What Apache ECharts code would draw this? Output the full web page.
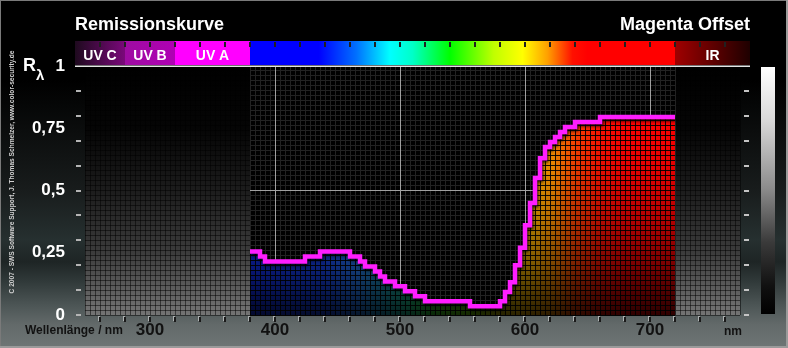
<!DOCTYPE html>
<html><head><meta charset="utf-8">
<script src="https://cdn.jsdelivr.net/npm/echarts@6/dist/echarts.min.js"></script>
<style>
html,body{margin:0;padding:0;background:#000;}
#c{width:788px;height:348px;background:linear-gradient(to bottom,#000 0px,#000 80px,#0b0d0d 130px,#181c1c 190px,#263030 240px,#1e2525 262px,#313a3a 282px,#4c5555 305px,#636a6a 325px,#6e7575 348px);}
</style></head><body><div id="c"></div><script>
// ---- data ----
const wavelengths = [380,384,388,392,396,400,404,408,412,416,420,424,428,432,436,440,444,448,452,456,460,464,468,472,476,480,484,488,492,496,500,504,508,512,516,520,524,528,532,536,540,544,548,552,556,560,564,568,572,576,580,584,588,592,596,600,604,608,612,616,620,624,628,632,636,640,644,648,652,656,660,664,668,672,676,680,684,688,692,696,700,704,708,712,716];
const remission = [0.255,0.255,0.235,0.215,0.215,0.215,0.215,0.215,0.215,0.215,0.215,0.235,0.235,0.235,0.255,0.255,0.255,0.255,0.255,0.255,0.235,0.235,0.215,0.195,0.195,0.175,0.155,0.135,0.135,0.115,0.115,0.095,0.095,0.075,0.075,0.055,0.055,0.055,0.055,0.055,0.055,0.055,0.055,0.055,0.035,0.035,0.035,0.035,0.035,0.035,0.055,0.092,0.132,0.2,0.27,0.36,0.45,0.55,0.63,0.675,0.695,0.715,0.735,0.755,0.755,0.775,0.775,0.775,0.775,0.775,0.795,0.795,0.795,0.795,0.795,0.795,0.795,0.795,0.795,0.795,0.795,0.795,0.795,0.795,0.795];
const dataEnd = 720;
const cellWidth = 4;
const xLabelValues = [300,400,500,600,700];
const yLabelValues = [0,0.25,0.5,0.75,1];
const bandNames = ['UV C','UV B','UV A','IR'];
const bandCenters = [260,300,350,750];
const majorX = [400,500,600,700];
const majorY = [0.5];
const sideRegions = [[248,380],[720,772]];

// ---- styles ----
const FONT = "'Liberation Sans', Arial, Helvetica, sans-serif";
const barSpectrum = [[240,'#1e0a1e'],[280,'#7a087a'],[280,'#9e0ca2'],[320,'#b000b4'],[320,'#ff00ff'],[380,'#ff00ff'],[380,'#0000ff'],[435,'#0000ff'],[465,'#0070ff'],[492,'#00ffff'],[510,'#00ffc8'],[540,'#00ff00'],[575,'#c0ff00'],[598,'#ffff00'],[618,'#ffa000'],[638,'#ff1000'],[650,'#ff0000'],[720,'#ff0000'],[720,'#a00000'],[780,'#1e0000']];
const fillSpectrum = [[380,'#1030ff'],[440,'#1848ff'],[465,'#2880ff'],[485,'#20a0d0'],[505,'#20d0a0'],[525,'#30e030'],[555,'#70e000'],[578,'#d0c000'],[595,'#ffc000'],[608,'#ffb000'],[622,'#ff9000'],[640,'#ff4000'],[660,'#ff1000'],[680,'#ff0000'],[720,'#ff0000']];
const shade = [[0,1],[0.25,0.9],[0.5,0.72],[0.75,0.48],[1,0.18]];

function hex(h){return [parseInt(h.slice(1,3),16),parseInt(h.slice(3,5),16),parseInt(h.slice(5,7),16)];}
function specAt(stops, nm){
  if(nm<=stops[0][0]) return hex(stops[0][1]);
  for(let i=1;i<stops.length;i++){
    if(nm<=stops[i][0]){
      const a=stops[i-1], b=stops[i]; const t=(b[0]===a[0])?1:(nm-a[0])/(b[0]-a[0]);
      const ca=hex(a[1]), cb=hex(b[1]);
      return [0,1,2].map(k=>ca[k]+(cb[k]-ca[k])*t);
    }
  }
  return hex(stops[stops.length-1][1]);
}
function rgb(c,f){return 'rgb('+Math.round(c[0]*f)+','+Math.round(c[1]*f)+','+Math.round(c[2]*f)+')';}
function ln(x1,y1,x2,y2,stroke,w){return {type:'line',shape:{x1:x1,y1:y1,x2:x2,y2:y2},style:{stroke:stroke,lineWidth:w||1}};}
function px(v){return Math.floor(v)+0.5;}

const chart = echarts.init(document.getElementById('c'), null, {renderer:'canvas'});

function renderBack(params, api){
  const ch=[]; const c=(x,y)=>api.coord([x,y]);
  const yTop=c(0,1)[1], yBot=c(0,0)[1];
  sideRegions.forEach(function(r){
    const p0=c(r[0],0), p1=c(r[1],1);
    ch.push({type:'rect',shape:{x:p0[0],y:p1[1],width:p1[0]-p0[0],height:p0[1]-p1[1]},
      style:{fill:{type:'linear',x:0,y:0,x2:0,y2:1,colorStops:[{offset:0,color:'#000'},{offset:0.25,color:'#050505'},{offset:0.5,color:'#1c1c1c'},{offset:0.75,color:'#3c3c3c'},{offset:1,color:'#747474'}]}}});
    for(let x=r[0];x<=r[1]+1e-9;x+=cellWidth){const q=c(x,0);ch.push(ln(px(q[0]),yTop,px(q[0]),yBot,'rgba(0,0,0,0.5)'));}
    for(let j=0;j<=50;j++){const q=c(r[0],j*0.02);ch.push(ln(p0[0],px(q[1]),p1[0],px(q[1]),'rgba(0,0,0,0.5)'));}
  });
  const m0=c(wavelengths[0],0), m1=c(dataEnd,1);
  ch.push({type:'rect',shape:{x:m0[0],y:m1[1],width:m1[0]-m0[0],height:m0[1]-m1[1]},style:{fill:'#000'}});
  for(let x=wavelengths[0];x<=dataEnd+1e-9;x+=cellWidth){const q=c(x,0);ch.push(ln(px(q[0]),yTop,px(q[0]),yBot,'#222222'));}
  for(let j=0;j<=50;j++){const q=c(0,j*0.02);ch.push(ln(m0[0],px(q[1]),m1[0],px(q[1]),'#222222'));}
  majorX.forEach(function(x){const q=c(x,0);ch.push(ln(px(q[0]),yTop,px(q[0]),yBot,'#a0a0a0'));});
  majorY.forEach(function(y){const q=c(0,y);ch.push(ln(m0[0],px(q[1]),m1[0],px(q[1]),'#a0a0a0'));});
  return {type:'group',children:ch};
}

function renderFill(params, api){
  const x0=api.value(0), v=api.value(1);
  const p0=api.coord([x0,0]), p1=api.coord([x0+cellWidth,v]);
  const yS=api.coord([x0,0.8])[1];
  const col=specAt(fillSpectrum,x0+cellWidth/2);
  const ch=[{type:'rect',shape:{x:p0[0],y:p1[1],width:p1[0]-p0[0],height:p0[1]-p1[1]},
    style:{fill:{type:'linear',x:0,y:yS,x2:0,y2:p0[1],global:true,colorStops:shade.map(s=>({offset:s[0],color:rgb(col,s[1])}))}}}];
  ch.push(ln(px(p0[0]),p0[1],px(p0[0]),p1[1],'rgba(0,0,0,0.9)'));
  for(let j=0;j*0.02<v;j++){const q=api.coord([x0,j*0.02]);ch.push(ln(p0[0],px(q[1]),p1[0],px(q[1]),'rgba(0,0,0,0.9)'));}
  return {type:'group',children:ch};
}

function renderFront(params, api){
  const ch=[]; const c=(x,y)=>api.coord([x,y]);
  const a=c(240,1), b=c(780,1), y1=a[1], y0=c(0,0)[1];
  const barTop=y1-25, barH=24;
  ch.push({type:'rect',shape:{x:a[0],y:barTop,width:b[0]-a[0],height:barH},
    style:{fill:{type:'linear',x:a[0],y:0,x2:b[0],y2:0,global:true,colorStops:barSpectrum.map(s=>({offset:(s[0]-240)/540,color:s[1]}))}}});
  for(let x=260;x<=760;x+=20){
    const q=c(x,1);
    ch.push({type:'rect',shape:{x:Math.round(q[0])-1,y:barTop+1,width:2,height:5},style:{fill:'#202020'}});
    ch.push({type:'rect',shape:{x:Math.round(q[0])-1,y:y0+2,width:2,height:5},style:{fill:'#1a1a1a',shadowColor:'rgba(255,255,255,0.5)',shadowOffsetX:-1,shadowOffsetY:-1,shadowBlur:0}});
  }
  bandNames.forEach(function(n,i){
    const q=c(bandCenters[i],1);
    ch.push({type:'text',x:q[0],y:barTop+15,style:{text:n,fill:'#fff',font:'bold 14px '+FONT,textAlign:'center',textVerticalAlign:'middle',align:'center',verticalAlign:'middle'}});
  });
  ch.push(ln(a[0],y1+0.25,b[0],y1+0.25,'#e4e4e4',1.5));
  for(let j=0;j<10;j++){
    const q=c(240,j*0.1), r=c(780,j*0.1);
    const y=Math.round(q[1])-1;
    ch.push({type:'rect',shape:{x:q[0]+1,y:y,width:5,height:2},style:{fill:'#b4b4b4'}});
    ch.push({type:'rect',shape:{x:r[0]-6,y:y,width:5,height:2},style:{fill:'#c4c4c4'}});
  }
  return {type:'group',children:ch};
}

const lineData = wavelengths.map((w,i)=>[w,remission[i]]).concat([[dataEnd,remission[remission.length-1]]]);

const option = {
  animation:false,
  backgroundColor:'transparent',
  grid:{left:75,top:66,width:675,height:249,containLabel:false,outerBoundsMode:'none'},
  xAxis:{type:'value',min:240,max:780,interval:20,axisLine:{show:false},axisTick:{show:false},splitLine:{show:false},
    axisLabel:{margin:7,color:'#121212',fontSize:17,fontWeight:'bold',fontFamily:FONT,
      formatter:function(v){return xLabelValues.some(t=>Math.abs(t-v)<1e-6)?String(Math.round(v)):'';}}},
  yAxis:{type:'value',min:0,max:1,interval:0.05,axisLine:{show:false},axisTick:{show:false},splitLine:{show:false},
    axisLabel:{margin:10,color:'#fff',fontSize:17,fontWeight:'bold',fontFamily:FONT,
      formatter:function(v){const m=yLabelValues.find(t=>Math.abs(t-v)<1e-6);return m===undefined?'':String(m).replace('.',',');}}},
  graphic:[
    {type:'text',x:75,y:25,style:{text:'Remissionskurve',fill:'#fff',font:'bold 18px '+FONT,textAlign:'left',textVerticalAlign:'middle'}},
    {type:'text',x:750,y:25,style:{text:'Magenta Offset',fill:'#fff',font:'bold 18px '+FONT,textAlign:'right',textVerticalAlign:'middle'}},
    {type:'text',x:23,y:66,style:{text:'R',fill:'#fff',font:'bold 18px '+FONT,textAlign:'left',textVerticalAlign:'middle'}},
    {type:'text',x:36,y:76,style:{text:'λ',fill:'#fff',font:'bold 15px '+FONT,textAlign:'left',textVerticalAlign:'middle'}},
    {type:'text',x:25,y:331,style:{text:'Wellenlänge / nm',fill:'#121212',font:'bold 12px '+FONT,textAlign:'left',textVerticalAlign:'middle'}},
    {type:'text',x:733,y:332,style:{text:'nm',fill:'#121212',font:'bold 12px '+FONT,textAlign:'center',textVerticalAlign:'middle'}},
    {type:'text',x:12.5,y:172,rotation:Math.PI/2,style:{text:'C 2007 - SWS Software Support, J. Thomas Schmelzer, www.color-security.de',fill:'#d0d0d0',font:'bold 6.6px '+FONT,textAlign:'center',textVerticalAlign:'middle'}},
    {type:'rect',shape:{x:761,y:67,width:14,height:247},style:{fill:new echarts.graphic.LinearGradient(0,0,0,1,[{offset:0,color:'#ffffff'},{offset:0.22,color:'#d8d8d8'},{offset:0.49,color:'#8c8c8c'},{offset:0.71,color:'#3a3a3a'},{offset:0.89,color:'#101010'},{offset:1,color:'#000'}])}},
    {type:'line',z:100,shape:{x1:0,y1:0.5,x2:788,y2:0.5},style:{stroke:'#7a7a7a',lineWidth:1}},
    {type:'line',z:100,shape:{x1:0.5,y1:0,x2:0.5,y2:348},style:{stroke:'#7a7a7a',lineWidth:1}},
    {type:'line',z:100,shape:{x1:787,y1:0,x2:787,y2:348},style:{stroke:'#9a9a9a',lineWidth:2}},
    {type:'line',z:100,shape:{x1:0,y1:347,x2:788,y2:347},style:{stroke:'#9a9a9a',lineWidth:2}}
  ],
  series:[
    {type:'custom',z:1,silent:true,data:[[500,0.5]],renderItem:renderBack},
    {type:'custom',z:2,silent:true,data:wavelengths.map((w,i)=>[w,remission[i]]),renderItem:renderFill},
    {type:'line',z:3,silent:true,data:lineData,step:'end',symbol:'none',
      lineStyle:{color:'#ff1eff',width:4.5,join:'miter',shadowColor:'rgba(0,0,0,0.85)',shadowBlur:3,shadowOffsetX:1,shadowOffsetY:2}},
    {type:'custom',z:4,silent:true,data:[[500,0.5]],renderItem:renderFront}
  ]
};
chart.setOption(option);
</script></body></html>
